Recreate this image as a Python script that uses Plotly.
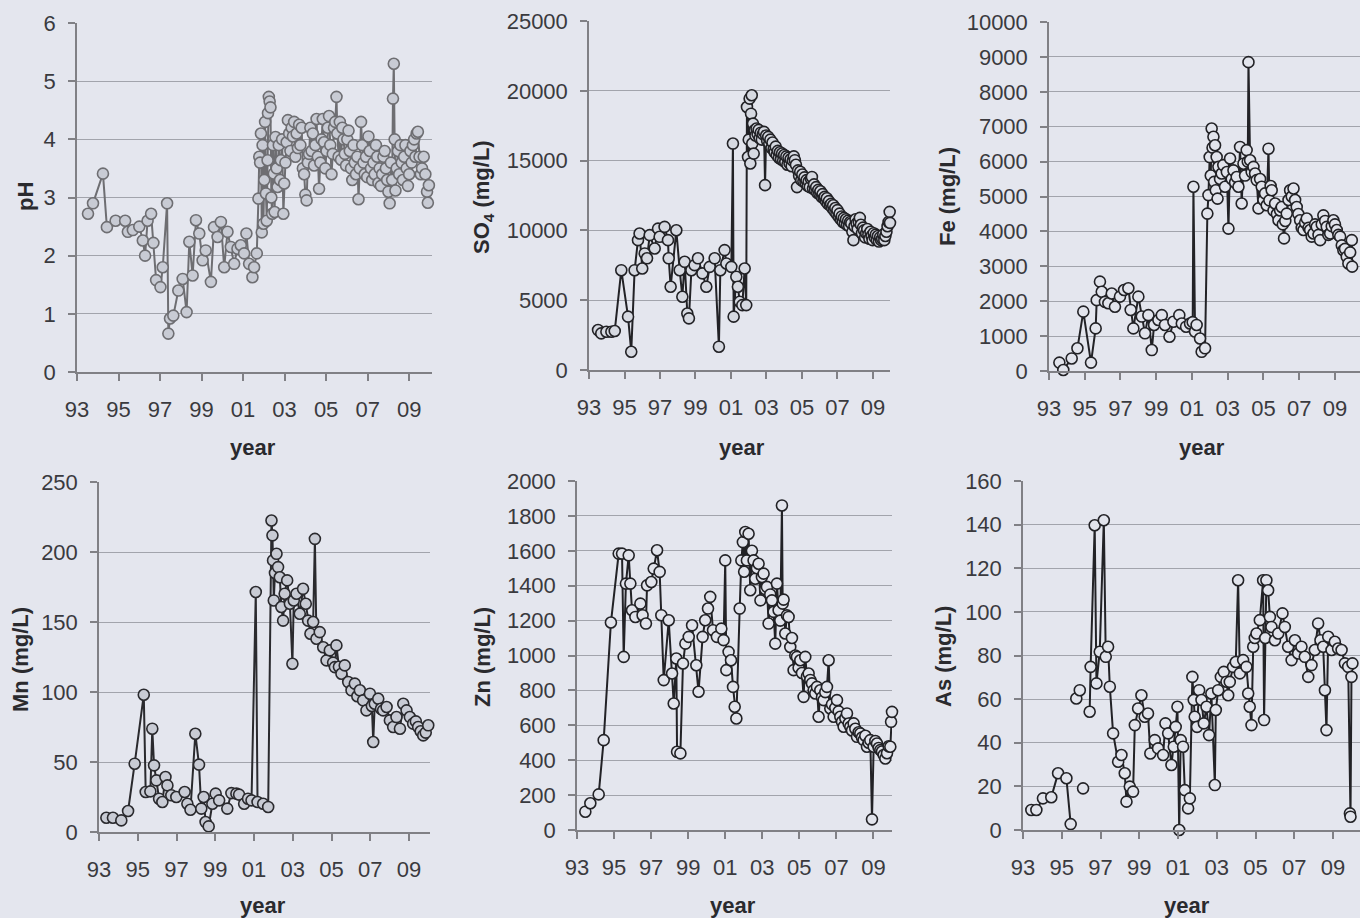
import plotly.graph_objects as go

W, H = 1360, 918
BG = "#e4e6ee"
GRID = "#a2a4ac"
AXC = "#808085"
TXT = "#3a3a3e"
FONT = "Liberation Sans, Arial, sans-serif"

year_ticks = [93, 95, 97, 99, 101, 103, 105, 107, 109]
year_labels = ["93", "95", "97", "99", "01", "03", "05", "07", "09"]

# ---------------- pH ----------------
ph_year = [93.53, 93.77, 94.25, 94.44, 94.86, 95.32, 95.45, 95.69, 96.00, 96.17,
           96.28, 96.40, 96.57, 96.68, 96.81, 97.02, 97.13, 97.34, 97.40, 97.48,
           97.64, 97.88, 98.09, 98.28, 98.41, 98.57, 98.73, 98.89, 99.05, 99.20,
           99.45, 99.60, 99.77, 99.93, 100.09, 100.25, 100.41, 100.57, 100.73, 100.89,
           101.05, 101.16, 101.29, 101.45, 101.53, 101.66,
           101.74, 101.78, 101.82, 101.86, 101.90, 101.94, 101.98, 102.02, 102.06, 102.10,
           102.14, 102.18, 102.20, 102.24, 102.28, 102.32, 102.36, 102.40, 102.44, 102.48,
           102.52, 102.56, 102.62, 102.66, 102.72, 102.78, 102.82, 102.88, 102.94, 102.98,
           103.04, 103.10, 103.16, 103.22, 103.28, 103.34, 103.40, 103.46, 103.52, 103.58,
           103.64, 103.70, 103.76, 103.82, 103.88, 103.94, 104.00, 104.06, 104.12, 104.18,
           104.24, 104.30, 104.36, 104.42, 104.48, 104.54, 104.60, 104.66, 104.72, 104.78,
           104.84, 104.90, 104.96, 105.02, 105.08, 105.14, 105.20, 105.26, 105.32, 105.38,
           105.44, 105.50, 105.54, 105.60, 105.66, 105.72, 105.78, 105.84, 105.90, 105.96,
           106.02, 106.08, 106.14, 106.20, 106.26, 106.32, 106.38, 106.44, 106.50, 106.56,
           106.62, 106.68, 106.74, 106.80, 106.86, 106.92, 106.98, 107.04, 107.10, 107.16,
           107.22, 107.28, 107.34, 107.40, 107.46, 107.52, 107.58, 107.64, 107.70, 107.76,
           107.82, 107.88, 107.94, 108.00, 108.06, 108.12, 108.18, 108.22, 108.26, 108.30,
           108.34, 108.40, 108.46, 108.52, 108.58, 108.64, 108.70, 108.76, 108.82, 108.88,
           108.94, 109.00, 109.06, 109.12, 109.18, 109.24, 109.30, 109.36, 109.42, 109.50,
           109.56, 109.62, 109.70, 109.78, 109.86, 109.90, 109.95]
ph_val = [2.72, 2.90, 3.41, 2.49, 2.60, 2.60, 2.41, 2.44, 2.50, 2.26,
          2.00, 2.60, 2.72, 2.22, 1.58, 1.46, 1.80, 2.90, 0.66, 0.92,
          0.97, 1.40, 1.60, 1.03, 2.24, 1.66, 2.61, 2.38, 1.92, 2.09,
          1.55, 2.49, 2.32, 2.58, 1.80, 2.41, 2.15, 1.86, 2.12, 2.18,
          2.04, 2.38, 1.86, 1.63, 1.80, 2.04,
          2.98, 3.70, 3.60, 4.10, 2.40, 3.90, 2.55, 3.30, 4.30, 3.07,
          2.60, 3.64, 4.45, 4.73, 4.65, 4.55, 3.00, 2.72, 3.90, 3.41,
          2.75, 4.04, 3.50, 3.18, 3.90, 3.30, 3.64, 4.00, 2.72, 3.24,
          3.60, 3.95, 4.33, 4.10, 3.80, 4.20, 4.05, 4.30, 3.70, 4.10,
          3.85, 4.25, 3.90, 4.20, 3.50, 3.40, 3.05, 2.95, 3.60, 3.75,
          4.20, 3.80, 4.10, 3.55, 3.90, 4.35, 3.70, 3.15, 3.60, 4.00,
          4.35, 3.95, 3.50, 3.80, 4.20, 4.40, 3.90, 3.40, 3.75, 4.20,
          4.30, 4.73, 4.10, 3.70, 4.30, 3.65, 4.20, 4.00, 3.75, 3.55,
          4.00, 4.15, 3.80, 3.50, 3.30, 3.90, 3.60, 3.40, 3.70, 2.97,
          3.50, 4.30, 3.90, 3.60, 3.40, 3.70, 3.35, 4.05, 3.80, 3.50,
          3.30, 3.60, 3.40, 3.90, 3.70, 3.25, 3.50, 3.20, 3.40, 3.70,
          3.80, 3.50, 3.30, 3.10, 2.90, 3.60, 3.30, 4.70, 5.30, 4.00,
          3.12, 3.50, 3.80, 3.40, 3.90, 3.60, 3.30, 3.70, 3.90, 3.50,
          3.20, 3.40, 3.80, 3.60, 3.90, 4.00, 3.70, 4.10, 4.13, 3.70,
          3.40, 3.50, 3.70, 3.40, 3.10, 2.91, 3.21]

# ---------------- SO4 ----------------
so4_year = [93.51, 93.69, 93.98, 94.26, 94.45, 94.82, 95.20, 95.38, 95.57, 95.76,
            95.85, 96.00, 96.14, 96.27, 96.42, 96.70, 96.89, 96.98, 97.26, 97.45,
            97.49, 97.60, 97.92, 98.11, 98.26, 98.39, 98.54, 98.63, 98.77, 98.95,
            99.14, 99.39, 99.61, 99.80, 100.08, 100.32, 100.40, 100.64, 100.74, 101.02,
            101.11, 101.15, 101.30, 101.39, 101.49, 101.64, 101.77, 101.86,
            101.90, 101.96, 102.00, 102.05, 102.09, 102.13, 102.17, 102.20, 102.24, 102.28,
            102.33, 102.38, 102.44, 102.50, 102.56, 102.62, 102.68, 102.74, 102.80, 102.86,
            102.92, 102.98, 103.04, 103.10, 103.16, 103.22, 103.28, 103.34, 103.40, 103.46,
            103.52, 103.58, 103.64, 103.70, 103.76, 103.82, 103.88, 103.94, 104.00, 104.06,
            104.12, 104.18, 104.24, 104.30, 104.36, 104.42, 104.48, 104.54, 104.60, 104.66,
            104.72, 104.78, 104.84, 104.90, 104.96, 105.02, 105.08, 105.14, 105.20, 105.26,
            105.32, 105.38, 105.44, 105.50, 105.56, 105.62, 105.68, 105.74, 105.80, 105.86,
            105.92, 105.98, 106.04, 106.10, 106.16, 106.22, 106.28, 106.34, 106.40, 106.46,
            106.52, 106.58, 106.64, 106.70, 106.76, 106.82, 106.88, 106.94, 107.00, 107.06,
            107.12, 107.18, 107.24, 107.30, 107.36, 107.42, 107.48, 107.54, 107.60, 107.66,
            107.72, 107.78, 107.84, 107.90, 107.96, 108.02, 108.08, 108.14, 108.20, 108.26,
            108.32, 108.38, 108.44, 108.50, 108.56, 108.62, 108.68, 108.74, 108.80, 108.86,
            108.92, 108.98, 109.04, 109.10, 109.16, 109.22, 109.28, 109.34, 109.40, 109.46,
            109.52, 109.58, 109.64, 109.70, 109.76, 109.82, 109.88, 109.94, 109.96]
so4_val = [2860, 2620, 2740, 2740, 2790, 7150, 3820, 1310, 7150, 9300,
           9780, 7270, 8350, 8000, 9660, 8700, 10130, 9540, 10250, 9300,
           8000, 5960, 10010, 7150, 5250, 7750, 4050, 3700, 7150, 7510,
           8000, 6920, 5960, 7390, 8000, 1670, 7150, 8590, 7630, 7390,
           16220, 3820, 6680, 5960, 4890, 4650, 7270, 4650,
           18840, 15260, 16500, 19440, 14790, 18360, 19680, 16220, 17650, 15500,
           17170, 16800, 17300, 16900, 17200, 16600, 17000, 16500, 16900, 17060,
           13240, 16800, 16400, 16700, 16200, 16500, 15900, 16300, 15800, 15600,
           16000, 15400, 15700, 15200, 15600, 15100, 15510, 15000, 15400, 14900,
           15300, 14700, 15200, 14800, 15100, 14600, 15000, 15300, 15030, 14700,
           13100, 14300, 13900, 14200, 13600, 14000, 13500, 13800, 13400, 13600,
           13200, 13500, 13100, 13710, 13830, 13000, 13300, 12900, 13100, 12700,
           12900, 12600, 12800, 12400, 12600, 12300, 12400, 12100, 12300, 11900,
           12100, 11800, 11900, 11600, 11800, 11400, 11600, 11200, 11450, 11000,
           11200, 10800, 11000, 10600, 10900, 10500, 10800, 10400, 10700, 10300,
           10600, 10500, 9900, 9300, 10300, 10800, 10500, 10100, 10600, 10900,
           10400, 9800, 10200, 10000, 9500, 9800, 10100, 9700, 9400, 9900,
           9600, 9300, 9800, 9500, 9700, 9300, 9600, 9200, 9500, 9300,
           9400, 9700, 9300, 9600, 9900, 10300, 10600, 11330, 10540]

# ---------------- Fe ----------------
fe_year = [93.58, 93.80, 94.27, 94.59, 94.92, 95.35, 95.61, 95.67, 95.85, 95.95,
           96.13, 96.32, 96.51, 96.69, 96.97, 97.20, 97.44, 97.57, 97.72, 98.00,
           98.19, 98.37, 98.56, 98.75, 98.88, 99.12, 99.31, 99.49, 99.74, 99.96,
           100.29, 100.43, 100.67, 100.89, 101.04, 101.08, 101.17, 101.26, 101.45, 101.54,
           101.73, 101.86, 101.92, 101.99, 102.05, 102.10, 102.15, 102.20, 102.24, 102.29,
           102.33, 102.38, 102.43, 102.48, 102.57, 102.66, 102.75, 102.85, 102.95, 103.04,
           103.13, 103.22, 103.32, 103.41, 103.50, 103.60, 103.69, 103.78, 103.88, 103.97,
           104.06, 104.12, 104.16, 104.25, 104.34, 104.44, 104.53, 104.62, 104.72, 104.81,
           104.90, 105.00, 105.09, 105.18, 105.28, 105.33, 105.40, 105.46, 105.56, 105.65,
           105.75, 105.84, 105.93, 106.02, 106.08, 106.15, 106.22, 106.30, 106.40, 106.49,
           106.58, 106.68, 106.77, 106.86, 106.95, 107.05, 107.14, 107.24, 107.33, 107.42,
           107.52, 107.61, 107.70, 107.80, 107.89, 107.98, 108.08, 108.17, 108.26, 108.35,
           108.45, 108.54, 108.63, 108.73, 108.82, 108.91, 109.00, 109.10, 109.19, 109.29,
           109.38, 109.47, 109.56, 109.66, 109.75, 109.85, 109.94, 109.96]
fe_val = [240, 30, 360, 650, 1700, 240, 1220, 2030, 2560, 2270,
          1980, 1940, 2220, 1840, 2130, 2320, 2370, 1750, 1220, 2130,
          1560, 1080, 1600, 600, 1320, 1460, 1600, 1320, 980, 1410,
          1600, 1360, 1270, 1360, 1400, 5280, 1130, 1320, 930, 550,
          650, 4510, 5040, 6130, 5600, 6950, 6400, 6710, 5420, 6470,
          5180, 6130, 4940, 5850, 5500, 5660, 5900, 5280, 5700, 4080,
          6090, 5500, 5750, 5400, 5560, 5280, 6420, 4800, 5940, 5600,
          6330, 6000, 8850, 6040, 5700, 5850, 5660, 5470, 4660, 5500,
          5280, 4900, 5090, 4750, 6370, 4890, 5300, 5180, 4600, 4800,
          4500, 4320, 4600, 4700, 4200, 3800, 4300, 4510, 4900, 5180,
          5000, 5230, 4900, 4700, 4500, 4320, 4100, 4040, 4250, 4370,
          4100, 4040, 3850, 3940, 4200, 4130, 3900, 3750, 4200, 4460,
          4300, 4130, 3900, 3940, 4150, 4320, 4200, 4040, 3900, 3850,
          3600, 3460, 3500, 3270, 3080, 3400, 3750, 2990]

# ---------------- Mn ----------------
mn_year = [93.38, 93.72, 94.15, 94.50, 94.84, 95.31, 95.41, 95.65, 95.75, 95.84,
           95.96, 96.10, 96.27, 96.43, 96.53, 96.73, 96.99, 97.42, 97.56, 97.72,
           97.97, 98.16, 98.28, 98.40, 98.50, 98.66, 98.85, 99.02, 99.20, 99.62,
           99.83, 100.09, 100.23, 100.49, 100.69, 100.87, 101.09, 101.18, 101.47, 101.73,
           101.90, 101.95, 101.98, 102.02, 102.08, 102.16, 102.24, 102.33, 102.41, 102.50,
           102.58, 102.71, 102.85, 102.98, 103.05, 103.19, 103.36, 103.53, 103.67, 103.79,
           103.91, 104.05, 104.14, 104.22, 104.39, 104.57, 104.74, 104.91, 105.08, 105.17,
           105.25, 105.38, 105.51, 105.68, 105.86, 106.03, 106.20, 106.33, 106.46, 106.63,
           106.80, 106.98, 107.08, 107.15, 107.23, 107.41, 107.55, 107.66, 107.84, 108.01,
           108.18, 108.35, 108.53, 108.70, 108.87, 109.04, 109.21, 109.35, 109.47, 109.60,
           109.73, 109.86, 109.99]
mn_val = [10.2, 10.2, 8.3, 15.0, 48.8, 98.0, 28.6, 29.0, 73.8, 47.6,
          36.9, 23.8, 21.4, 39.3, 33.3, 26.2, 25.0, 28.6, 20.2, 15.9,
          70.2, 48.1, 16.7, 25.0, 7.1, 4.0, 20.2, 27.4, 22.6, 16.7,
          27.8, 27.4, 26.7, 20.2, 23.8, 22.6, 171.4, 21.4, 20.2, 17.9,
          222.5, 211.9, 194.0, 165.4, 185.0, 198.7, 189.2, 182.0, 160.7, 151.0,
          170.2, 179.7, 163.0, 120.2, 165.4, 170.2, 155.9, 173.7, 163.0, 151.0,
          141.6, 150.0, 209.4, 138.0, 142.8, 132.0, 122.6, 129.7, 121.0, 117.8,
          133.3, 118.0, 113.0, 119.0, 107.1, 101.2, 106.0, 97.0, 101.2, 94.0,
          86.9, 98.8, 90.0, 64.3, 91.6, 95.2, 88.0, 86.9, 89.3, 79.7,
          75.0, 82.1, 73.8, 91.6, 86.9, 82.1, 77.4, 79.0, 75.0, 72.0,
          69.0, 71.0, 76.2]

# ---------------- Zn ----------------
zn_year = [93.45, 93.72, 94.17, 94.44, 94.83, 95.25, 95.43, 95.52, 95.64, 95.79,
           95.88, 95.97, 96.15, 96.42, 96.54, 96.72, 96.78, 97.01, 97.14, 97.32,
           97.46, 97.55, 97.68, 97.95, 98.13, 98.22, 98.36, 98.40, 98.58, 98.72,
           98.85, 99.03, 99.21, 99.44, 99.56, 99.78, 99.92, 100.07, 100.19, 100.34,
           100.55, 100.79, 100.91, 101.00, 101.06, 101.18, 101.31, 101.42, 101.51, 101.60,
           101.78, 101.87, 101.95, 102.02, 102.08, 102.17, 102.26, 102.35, 102.44, 102.53,
           102.62, 102.71, 102.80, 102.90, 102.98, 103.07, 103.16, 103.25, 103.34, 103.43,
           103.52, 103.61, 103.70, 103.79, 103.88, 103.97, 104.06, 104.10, 104.15, 104.24,
           104.33, 104.42, 104.51, 104.60, 104.69, 104.78, 104.87, 104.96, 105.05, 105.14,
           105.23, 105.32, 105.41, 105.50, 105.59, 105.68, 105.77, 105.86, 105.95, 106.04,
           106.13, 106.22, 106.31, 106.40, 106.49, 106.58, 106.67, 106.76, 106.85, 106.94,
           107.03, 107.12, 107.21, 107.30, 107.39, 107.48, 107.57, 107.66, 107.75, 107.84,
           107.93, 108.02, 108.11, 108.20, 108.29, 108.38, 108.47, 108.56, 108.65, 108.74,
           108.83, 108.92, 109.01, 109.10, 109.19, 109.28, 109.37, 109.46, 109.55, 109.64,
           109.73, 109.82, 109.91, 109.95, 110.00]
zn_val = [105, 153, 204, 515, 1189, 1584, 1584, 992, 1412, 1574,
          1412, 1259, 1221, 1297, 1231, 1183, 1402, 1421, 1498, 1603,
          1479, 1231, 859, 1202, 897, 725, 983, 448, 439, 954,
          1068, 1107, 1173, 944, 792, 1107, 1202, 1269, 1336, 1145,
          1107, 1154, 1088, 1545, 916, 1021, 973, 820, 706, 639,
          1269, 1545, 1650, 1480, 1708, 1545, 1698, 1374, 1600, 1545,
          1440, 1500, 1526, 1316, 1450, 1469, 1380, 1393, 1183, 1350,
          1316, 1250, 1068, 1412, 1259, 1200, 1860, 1297, 1320, 1126,
          1230, 1221, 1049, 1100, 916, 1000, 992, 930, 973, 900,
          763, 992, 880, 897, 860, 840, 800, 782, 820, 649,
          801, 760, 744, 790, 820, 973, 696, 720, 649, 700,
          744, 680, 649, 620, 592, 640, 668, 610, 592, 570,
          611, 580, 534, 560, 553, 530, 515, 540, 477, 500,
          515, 61, 477, 510, 496, 470, 458, 450, 430, 410,
          440, 480, 477, 620, 677]

# ---------------- As ----------------
as_year = [93.43, 93.69, 94.03, 94.46, 94.81, 95.24, 95.46, 95.60, 95.75, 95.84,
           95.93, 96.02, 96.10, 96.30,
           96.44, 96.49, 96.70, 96.79, 96.96, 97.17, 97.27, 97.39, 97.48, 97.65,
           97.91, 98.08, 98.25, 98.34, 98.51, 98.68, 98.77, 98.94, 99.11, 99.28,
           99.45, 99.57, 99.80, 99.97, 100.23, 100.35, 100.49, 100.66, 100.78, 100.88,
           100.97, 101.06, 101.14, 101.26, 101.35, 101.52, 101.61, 101.74, 101.81, 101.86,
           101.98, 102.09, 102.21, 102.33, 102.47, 102.60, 102.72, 102.90, 102.95, 103.07,
           103.21, 103.36, 103.50, 103.59, 103.67, 103.84, 103.98, 104.10, 104.19, 104.36,
           104.53, 104.62, 104.70, 104.79, 104.88, 104.96, 105.05, 105.22, 105.39, 105.44,
           105.50, 105.56, 105.65, 105.74, 105.82, 106.00, 106.17, 106.39, 106.51, 106.68,
           106.86, 107.03, 107.20, 107.37, 107.54, 107.72, 107.89, 108.06, 108.23, 108.35,
           108.49, 108.58, 108.66, 108.75, 108.92, 109.09, 109.26, 109.44, 109.61, 109.78,
           109.87, 109.90, 109.95, 110.00]
as_val = [9.2, 9.2, 14.5, 15.0, 26.0, 23.7, 2.7, None, 60.3, None,
          64.1, None, 19.1, None,
          54.2, 74.8, 139.7, 67.2, 81.7, 142.0, 79.4, 84.0, 65.7, 44.3,
          31.3, 34.4, 26.0, 13.0, 19.9, 17.6, 48.1, 55.7, 61.8, 51.9,
          53.4, 35.1, 41.2, 37.4, 34.4, 48.9, 44.3, 29.8, 38.2, 47.3,
          56.5, 0.0, 41.2, 38.2, 18.3, 9.9, 14.5, 70.2, 59.6, 51.9,
          47.3, 64.1, 59.6, 48.9, 56.5, 43.5, 62.6, 20.6, 55.0, 64.1,
          70.2, 72.5, 68.0, 61.8, 67.9, 74.8, 77.0, 114.5, 71.8, 77.9,
          74.8, 62.6, 56.5, 48.1, 84.0, 88.0, 90.1, 96.2, 114.5, 50.4,
          88.0, 114.5, 109.9, 97.7, 93.1, 87.0, 90.1, 99.3, 93.1, 84.0,
          77.9, 87.0, 80.9, 84.0, 79.4, 70.2, 75.6, 82.5, 94.7, 87.0,
          84.0, 64.1, 45.8, 88.6, 82.5, 86.3, 83.2, 82.5, 76.4, 74.8,
          7.6, 6.1, 70.2, 76.4]

# panel geometry in pixels: (left, right, top, bottom), x-range end, y max, dtick
panels = [
    dict(x=ph_year, y=ph_val, box=(77, 432, 23, 372), xend=110.1, ymax=6, dt=1,
         title="<b>pH</b>", tpos=(25, 197), ypos=(253, 447),
         fill="#c8cbd4", edge="#6e6e72", line="#6e6e72"),
    dict(x=so4_year, y=so4_val, box=(589, 890, 21, 370), xend=109.96, ymax=25000, dt=5000,
         title="<b>SO<sub>4</sub> (mg/L)</b>", tpos=(483, 197), ypos=(742, 447),
         fill="#d6d9e1", edge="#222226", line="#222226"),
    dict(x=fe_year, y=fe_val, box=(1049, 1360, 22, 371), xend=110.4, ymax=10000, dt=1000,
         title="<b>Fe (mg/L)</b>", tpos=(947, 197), ypos=(1202, 447),
         fill="#e2e4ec", edge="#222226", line="#222226"),
    dict(x=mn_year, y=mn_val, box=(99, 430, 482, 832), xend=110.08, ymax=250, dt=50,
         title="<b>Mn (mg/L)</b>", tpos=(20, 660), ypos=(263, 905),
         fill="#c8cbd4", edge="#2a2a2e", line="#2a2a2e"),
    dict(x=zn_year, y=zn_val, box=(577, 892, 481, 830), xend=110.0, ymax=2000, dt=200,
         title="<b>Zn (mg/L)</b>", tpos=(482, 657), ypos=(733, 905),
         fill="#e2e4ec", edge="#222226", line="#222226"),
    dict(x=as_year, y=as_val, box=(1023, 1360, 481, 830), xend=110.39, ymax=160, dt=20,
         title="<b>As (mg/L)</b>", tpos=(943, 657), ypos=(1187, 905),
         fill="#e2e4ec", edge="#222226", line="#222226"),
]

fig = go.Figure()
annotations = []
for i, p in enumerate(panels, start=1):
    sfx = "" if i == 1 else str(i)
    l, r, t, b = p["box"]
    fig.add_trace(go.Scatter(
        x=p["x"], y=p["y"], mode="lines+markers",
        xaxis="x" + sfx, yaxis="y" + sfx,
        line=dict(color=p["line"], width=2),
        marker=dict(size=11, color=p["fill"], line=dict(color=p["edge"], width=1.6)),
        connectgaps=False, showlegend=False, cliponaxis=False,
    ))
    fig.layout["xaxis" + sfx] = dict(
        domain=[l / W, r / W], anchor="y" + sfx, range=[93, p["xend"]],
        tickvals=year_ticks, ticktext=year_labels, ticks="outside", ticklen=7,
        tickcolor=AXC, tickwidth=1.5, showline=True, linecolor=AXC, linewidth=1.5,
        showgrid=False, zeroline=False, ticklabelstandoff=10, automargin=False,
        tickfont=dict(family=FONT, size=22, color=TXT),
    )
    fig.layout["yaxis" + sfx] = dict(
        domain=[1 - b / H, 1 - t / H], anchor="x" + sfx, range=[0, p["ymax"]],
        dtick=p["dt"], tick0=0, tickformat="d", ticks="outside", ticklen=7,
        tickcolor=AXC, tickwidth=1.5,
        showline=True, linecolor=AXC, linewidth=1.5, showgrid=True, gridcolor=GRID,
        gridwidth=1, zeroline=False, ticklabelstandoff=8, automargin=False,
        tickfont=dict(family=FONT, size=22, color=TXT),
    )
    annotations.append(dict(
        text=p["title"], x=p["tpos"][0] / W, y=1 - p["tpos"][1] / H, xref="paper", yref="paper",
        textangle=-90, showarrow=False, xanchor="center", yanchor="middle",
        font=dict(family=FONT, size=22, color="#2a2a2e"),
    ))
    annotations.append(dict(
        text="<b>year</b>", x=p["ypos"][0] / W, y=1 - p["ypos"][1] / H, xref="paper", yref="paper",
        showarrow=False, xanchor="center", yanchor="middle",
        font=dict(family=FONT, size=22, color="#2a2a2e"),
    ))

fig.update_layout(
    width=W, height=H, margin=dict(l=0, r=0, t=0, b=0, autoexpand=False),
    paper_bgcolor=BG, plot_bgcolor=BG, annotations=annotations,
    font=dict(family=FONT, color=TXT),
)
fig.write_html(
    "out.html",
    config={"displayModeBar": False},
    post_script="document.body.style.margin='0';document.body.style.background='" + BG + "';",
)
